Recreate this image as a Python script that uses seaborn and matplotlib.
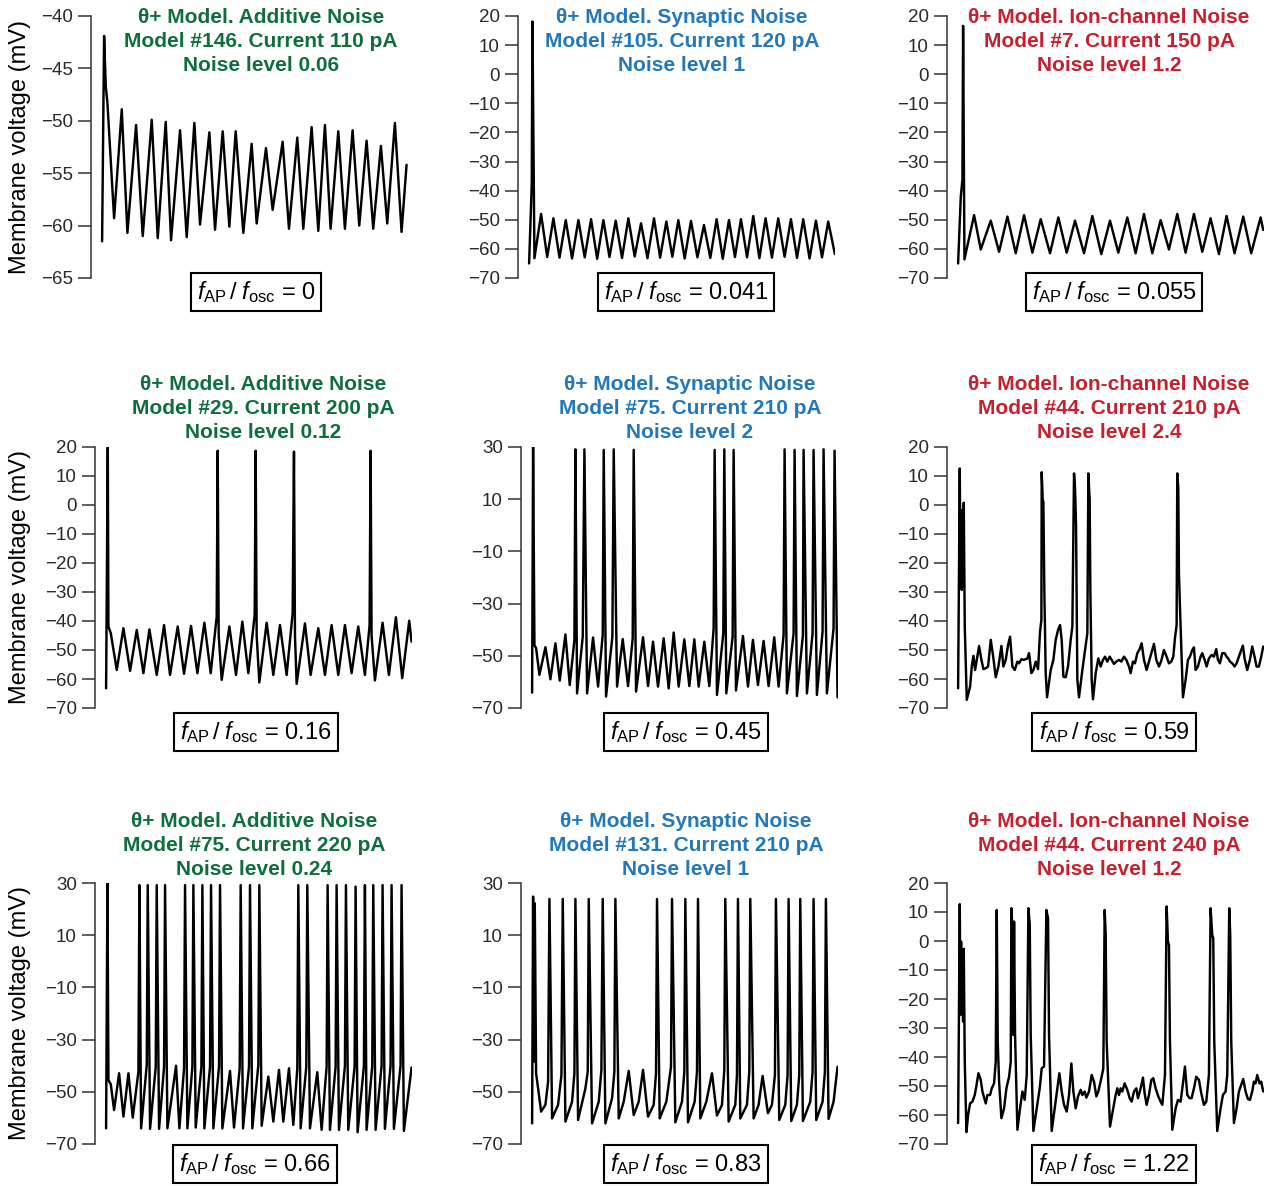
import matplotlib
matplotlib.use("Agg")
import matplotlib.pyplot as plt
import pandas as pd
import seaborn as sns

# ---------------------------------------------------------------------------
# Membrane-voltage traces: (time in ms, voltage in mV) at the turning points
# ---------------------------------------------------------------------------
trace_add_146 = [(0, -61.5), (18, -41.9), (33, -46.7), (48, -48.3), (108, -59.3), (177, -48.9),
                 (228, -60.7), (306, -50.4), (366, -61.0), (447, -49.9), (501, -61.2), (573, -50.1),
                 (621, -61.4), (702, -50.9), (762, -61.1), (831, -50.2), (882, -59.9), (966, -51.1),
                 (1017, -60.4), (1086, -51.0), (1146, -60.1), (1203, -51.0), (1272, -60.7), (1347, -52.2),
                 (1392, -59.8), (1476, -52.6), (1536, -58.5), (1626, -52.0), (1683, -60.3), (1758, -51.6),
                 (1812, -60.3), (1887, -50.6), (1947, -60.5), (2007, -50.4), (2058, -60.3), (2127, -51.0),
                 (2187, -60.3), (2256, -50.9), (2316, -60.0), (2382, -51.9), (2442, -60.3), (2511, -52.4),
                 (2568, -59.8), (2637, -50.2), (2697, -60.6), (2742, -54.2)]

trace_syn_105 = [(0, -65.0), (24, -37.5), (30, 18.1), (48, -63.2), (108, -48.0), (163, -62.8),
                 (219, -49.5), (274, -63.0), (330, -50.1), (387, -63.3), (444, -50.1), (501, -62.9),
                 (558, -49.8), (613, -63.4), (669, -50.1), (724, -62.8), (780, -50.3), (837, -63.1),
                 (894, -49.5), (951, -62.6), (1008, -51.2), (1066, -63.2), (1125, -49.5), (1180, -63.0),
                 (1236, -50.6), (1290, -62.7), (1344, -50.1), (1401, -63.3), (1458, -50.4), (1516, -62.9),
                 (1575, -51.8), (1632, -63.1), (1689, -49.8), (1744, -63.4), (1800, -50.1), (1854, -62.8),
                 (1908, -49.8), (1963, -62.9), (2019, -48.7), (2074, -63.2), (2130, -49.5), (2187, -63.0),
                 (2244, -49.5), (2301, -62.7), (2358, -49.8), (2413, -63.1), (2469, -49.8), (2526, -63.3),
                 (2583, -50.3), (2638, -62.9), (2694, -50.6), (2754, -61.8)]

trace_ion_7 = [(0, -65.0), (24, -42.1), (39, -36.3), (45, 16.6), (57, -63.6), (144, -48.4), (204, -60.2),
               (294, -50.3), (369, -61.0), (444, -48.9), (519, -61.5), (594, -48.4), (669, -61.3),
               (744, -49.8), (828, -61.5), (903, -49.2), (978, -61.3), (1053, -50.3), (1134, -61.5),
               (1209, -48.7), (1290, -61.8), (1368, -50.3), (1443, -61.3), (1524, -49.2), (1599, -61.5),
               (1674, -48.0), (1749, -61.5), (1824, -50.1), (1899, -60.2), (1974, -48.0), (2049, -61.3),
               (2124, -48.0), (2199, -61.0), (2274, -49.5), (2349, -61.8), (2418, -48.7), (2490, -61.5),
               (2568, -48.9), (2640, -61.5), (2724, -49.2), (2748, -53.5)]

trace_add_29 = [(0, -63.2), (15, 19.9), (21, -41.9), (42, -44.2), (96, -56.9), (156, -42.5), (216, -57.2),
                (276, -43.1), (336, -58.0), (390, -42.9), (456, -58.6), (522, -41.4), (576, -58.6),
                (645, -41.9), (702, -58.2), (765, -41.7), (822, -58.0), (885, -40.6), (942, -58.0),
                (996, -38.5), (1005, 18.7), (1014, -45.0), (1041, -60.3), (1110, -41.9), (1170, -58.6),
                (1227, -40.2), (1281, -58.0), (1338, -37.9), (1347, 18.7), (1356, -45.0), (1380, -61.2),
                (1446, -40.6), (1506, -58.6), (1566, -41.4), (1626, -58.6), (1680, -37.3), (1692, 18.4),
                (1701, -45.0), (1716, -61.7), (1791, -40.8), (1842, -58.6), (1911, -42.5), (1971, -58.6),
                (2031, -41.4), (2091, -58.6), (2151, -41.4), (2211, -58.0), (2271, -41.9), (2331, -58.6),
                (2373, -41.4), (2382, 18.7), (2391, -45.0), (2421, -60.5), (2490, -40.6), (2547, -58.6),
                (2610, -38.7), (2667, -59.7), (2730, -39.9), (2751, -47.1)]

trace_syn_75 = [(0, -64.1), (9, 30.1), (21, -45.9), (36, -47.1), (66, -57.3), (120, -46.7), (165, -59.0),
                (210, -45.2), (249, -59.5), (300, -41.8), (339, -61.2), (381, -43.9), (390, 29.1),
                (405, -64.4), (456, -42.7), (471, 29.1), (495, -64.4), (549, -43.0), (594, -61.8),
                (636, -42.0), (645, 28.9), (666, -65.6), (723, -42.7), (735, 29.1), (765, -61.8),
                (816, -43.6), (864, -61.6), (906, -43.3), (915, 28.9), (936, -63.7), (999, -42.9),
                (1044, -61.6), (1089, -44.6), (1134, -61.8), (1185, -43.3), (1230, -62.5), (1275, -41.1),
                (1320, -61.8), (1371, -43.7), (1416, -61.6), (1461, -43.7), (1500, -61.8), (1551, -44.6),
                (1596, -61.6), (1635, -39.5), (1644, 28.9), (1665, -65.0), (1722, -41.4), (1731, 29.1),
                (1749, -64.4), (1806, -42.7), (1815, 28.9), (1836, -63.3), (1899, -42.4), (1944, -61.8),
                (1989, -43.9), (2034, -61.2), (2085, -44.3), (2130, -61.6), (2181, -42.9), (2220, -61.8),
                (2265, -42.0), (2274, 29.1), (2295, -64.4), (2355, -41.4), (2364, 28.9), (2385, -65.4),
                (2439, -42.0), (2445, 28.9), (2475, -64.4), (2526, -41.4), (2535, 28.9), (2565, -65.0),
                (2616, -40.7), (2625, 29.1), (2655, -64.4), (2715, -39.5), (2724, 28.6), (2751, -65.9)]

trace_ion_44a = [(0, -63.2), (15, 12.6), (21, -25.9), (27, -1.7), (33, -29.3), (39, -4.6), (45, -28.2),
                 (51, 0.8), (60, -41.9), (78, -67.2), (108, -62.6), (123, -55.7), (138, -52.0),
                 (153, -56.9), (168, -53.4), (189, -48.6), (210, -53.4), (228, -56.6), (249, -56.3),
                 (270, -55.7), (294, -46.5), (315, -52.0), (339, -59.4), (363, -55.7), (390, -48.6),
                 (408, -55.7), (429, -53.4), (450, -48.3), (468, -45.4), (489, -55.7), (510, -56.9),
                 (534, -54.0), (549, -54.6), (570, -53.2), (594, -53.4), (624, -52.9), (639, -51.1),
                 (660, -58.0), (678, -56.9), (699, -54.0), (720, -56.6), (738, -43.7), (750, -39.6),
                 (753, 11.3), (762, 1.7), (768, 1.2), (777, -30.4), (789, -58.0), (801, -66.3),
                 (834, -56.9), (858, -53.4), (879, -46.5), (900, -43.1), (918, -41.4), (933, -46.5),
                 (948, -59.2), (969, -59.4), (990, -55.7), (1014, -46.5), (1029, -41.9), (1044, 10.9),
                 (1053, 5.8), (1062, -6.3), (1074, -60.3), (1089, -66.3), (1119, -56.9), (1140, -51.1),
                 (1164, -44.2), (1173, 10.9), (1185, 1.7), (1191, -29.3), (1203, -60.3), (1215, -67.0),
                 (1239, -58.0), (1263, -52.9), (1284, -55.7), (1305, -53.4), (1323, -52.3), (1344, -54.0),
                 (1365, -52.3), (1383, -53.4), (1404, -54.8), (1425, -54.0), (1449, -53.4), (1470, -54.0),
                 (1494, -52.3), (1515, -53.4), (1539, -55.7), (1554, -58.0), (1575, -54.0), (1593, -54.6),
                 (1614, -51.1), (1635, -49.7), (1653, -47.7), (1674, -53.4), (1698, -56.9), (1719, -54.0),
                 (1740, -51.1), (1764, -47.9), (1785, -53.4), (1809, -55.7), (1830, -53.7), (1854, -50.0),
                 (1875, -52.0), (1899, -54.6), (1920, -54.0), (1938, -52.3), (1953, -46.0), (1968, -41.4),
                 (1974, 10.9), (1983, 5.8), (1989, -23.6), (1998, -35.0), (2025, -66.3), (2049, -60.3),
                 (2070, -53.4), (2088, -52.3), (2109, -50.0), (2124, -49.1), (2139, -56.9), (2160, -55.7),
                 (2184, -52.3), (2199, -51.1), (2220, -53.4), (2238, -55.7), (2259, -52.9), (2283, -51.7),
                 (2304, -52.3), (2325, -49.7), (2340, -53.4), (2358, -54.6), (2379, -51.1), (2400, -51.1),
                 (2418, -52.3), (2433, -52.9), (2448, -54.0), (2469, -54.6), (2490, -55.7), (2508, -54.6),
                 (2529, -52.3), (2550, -50.0), (2565, -48.5), (2580, -52.9), (2604, -56.9), (2628, -53.4),
                 (2649, -48.8), (2670, -52.3), (2688, -55.7), (2709, -55.7), (2730, -52.3), (2748, -48.8)]

trace_add_75 = [(0, -64.0), (12, 30.0), (21, -45.5), (42, -47.1), (72, -57.0), (117, -42.9), (156, -59.5),
                (201, -42.9), (240, -59.9), (291, -42.3), (300, 29.2), (315, -64.0), (366, -39.7),
                (375, 29.2), (396, -64.2), (447, -40.4), (456, 29.2), (477, -64.2), (522, -40.4),
                (531, 29.2), (552, -64.0), (630, -40.0), (660, -64.0), (702, -41.0), (711, 29.2),
                (732, -64.0), (777, -40.4), (786, 29.2), (807, -63.7), (858, -40.4), (867, 29.2),
                (885, -64.0), (936, -40.4), (945, 29.2), (966, -64.0), (1017, -40.4), (1026, 29.2),
                (1047, -64.0), (1116, -42.0), (1152, -63.7), (1203, -41.0), (1212, 29.2), (1233, -64.0),
                (1287, -40.4), (1296, 29.2), (1317, -64.0), (1371, -39.7), (1380, 29.2), (1401, -63.0),
                (1461, -44.2), (1506, -61.4), (1557, -41.6), (1596, -61.4), (1647, -41.0), (1686, -62.7),
                (1722, -41.0), (1731, 29.2), (1752, -64.0), (1803, -40.4), (1812, 29.2), (1836, -64.0),
                (1902, -42.5), (1941, -64.6), (1986, -40.4), (1995, 29.2), (2016, -64.6), (2067, -40.4),
                (2076, 29.2), (2097, -64.6), (2151, -40.0), (2160, 29.2), (2181, -64.6), (2238, -40.4),
                (2247, 28.6), (2265, -65.5), (2322, -40.0), (2331, 29.2), (2346, -64.6), (2397, -40.0),
                (2406, 29.2), (2427, -64.6), (2481, -40.0), (2490, 29.2), (2511, -64.2), (2562, -40.0),
                (2571, 29.2), (2592, -64.2), (2652, -40.0), (2661, 29.2), (2682, -65.0), (2751, -40.7)]

trace_syn_131 = [(0, -62.1), (9, 24.8), (15, -38.5), (24, 22.2), (36, -42.9), (54, -48.7), (81, -57.6),
                 (120, -55.0), (144, -46.1), (156, 23.9), (180, -60.2), (234, -55.0), (264, -43.6),
                 (276, 23.9), (300, -61.4), (360, -53.8), (381, -42.9), (390, 23.9), (414, -60.8),
                 (480, -48.7), (501, -42.3), (510, 23.9), (540, -62.1), (600, -53.8), (624, -41.6),
                 (636, 23.9), (660, -62.1), (720, -52.5), (741, -42.3), (750, 23.9), (780, -60.2),
                 (825, -53.8), (870, -42.0), (915, -58.9), (960, -53.8), (999, -41.6), (1044, -59.5),
                 (1095, -55.0), (1116, -42.9), (1125, 23.9), (1149, -60.2), (1209, -53.8), (1251, -40.4),
                 (1260, 23.9), (1290, -61.7), (1350, -53.8), (1371, -42.3), (1380, 23.9), (1404, -61.7),
                 (1464, -53.8), (1485, -42.3), (1494, 23.9), (1515, -60.2), (1569, -53.8), (1620, -42.9),
                 (1665, -59.1), (1710, -55.0), (1731, -41.6), (1740, 23.9), (1770, -61.4), (1830, -55.0),
                 (1845, -43.6), (1854, 23.9), (1875, -60.2), (1935, -55.0), (1956, -42.3), (1965, 23.9),
                 (1995, -60.2), (2040, -55.0), (2076, -43.9), (2124, -58.2), (2160, -55.0), (2187, -43.6),
                 (2196, 23.9), (2226, -60.8), (2280, -55.0), (2301, -43.6), (2310, 23.9), (2334, -61.2),
                 (2385, -55.0), (2406, -43.6), (2415, 23.9), (2439, -61.2), (2505, -53.8), (2526, -42.3),
                 (2535, 23.9), (2559, -60.8), (2616, -53.8), (2637, -42.3), (2646, 23.9), (2670, -60.4),
                 (2715, -53.8), (2751, -40.4)]

trace_ion_44b = [(0, -62.8), (15, 12.7), (21, -25.5), (27, -0.2), (33, -23.2), (39, -11.7), (45, -27.8),
                 (51, -2.7), (60, -41.6), (75, -65.9), (90, -60.0), (108, -56.0), (129, -55.4),
                 (150, -53.1), (165, -49.9), (183, -45.6), (204, -47.9), (219, -51.9), (234, -54.0),
                 (249, -56.0), (264, -53.1), (288, -53.1), (303, -50.8), (324, -49.1), (339, -41.6),
                 (348, 10.7), (357, -34.7), (369, -48.5), (390, -61.1), (414, -57.7), (435, -50.8),
                 (459, -46.8), (474, -41.6), (480, 11.3), (492, 2.1), (498, -32.4), (504, 6.7),
                 (513, -32.4), (534, -65.1), (558, -57.7), (579, -51.9), (600, -54.8), (618, -46.2),
                 (633, 11.3), (645, 6.1), (654, -32.4), (678, -65.5), (708, -57.7), (735, -50.8),
                 (753, -43.9), (774, -43.3), (795, 10.7), (810, 7.8), (819, -32.4), (843, -65.5),
                 (870, -57.7), (894, -50.8), (912, -45.6), (933, -51.9), (954, -56.5), (978, -58.8),
                 (999, -53.1), (1020, -42.2), (1038, -51.9), (1059, -57.7), (1080, -53.6), (1104, -51.3),
                 (1119, -53.1), (1140, -51.9), (1155, -54.0), (1179, -51.9), (1203, -46.2), (1224, -48.5),
                 (1245, -53.6), (1263, -51.9), (1290, -47.3), (1308, -43.9), (1320, 10.7), (1329, 2.7),
                 (1338, -34.7), (1368, -64.0), (1398, -57.7), (1419, -53.1), (1434, -50.8), (1449, -53.1),
                 (1464, -50.8), (1479, -51.9), (1500, -49.1), (1524, -51.3), (1545, -54.2), (1563, -55.4),
                 (1584, -51.9), (1605, -50.8), (1620, -54.2), (1644, -50.8), (1665, -47.1), (1680, -52.5),
                 (1698, -56.5), (1719, -53.1), (1740, -47.9), (1758, -47.3), (1779, -50.8), (1803, -53.6),
                 (1824, -55.4), (1839, -56.5), (1863, -46.2), (1878, 11.9), (1890, -0.2), (1899, -1.4),
                 (1908, -34.7), (1929, -65.1), (1959, -57.7), (1980, -54.8), (2004, -55.4), (2025, -49.1),
                 (2043, -43.3), (2064, -53.1), (2085, -54.2), (2103, -54.2), (2124, -50.8), (2145, -46.8),
                 (2169, -47.9), (2190, -52.5), (2214, -56.5), (2235, -55.4), (2259, -46.2), (2274, 11.3),
                 (2289, 2.1), (2298, 0.9), (2307, -34.7), (2334, -65.5), (2364, -57.7), (2385, -53.1),
                 (2409, -51.9), (2424, -46.2), (2442, 11.3), (2451, 2.1), (2460, -34.7), (2484, -62.8),
                 (2508, -57.7), (2529, -51.9), (2550, -49.6), (2568, -47.6), (2589, -51.9), (2610, -54.5),
                 (2628, -54.8), (2649, -51.9), (2664, -48.5), (2679, -49.1), (2694, -46.2), (2715, -49.1),
                 (2730, -48.5), (2748, -51.9)]

# Panel annotations
noise_types = ["Additive", "Synaptic", "Ion-channel"]
models = [[146, 105, 7], [29, 75, 44], [75, 131, 44]]
currents = [[110, 120, 150], [200, 210, 210], [220, 210, 240]]
noise_levels = [["0.06", "1", "1.2"], ["0.12", "2", "2.4"], ["0.24", "1", "1.2"]]
ratios = [["0", "0.041", "0.055"], ["0.16", "0.45", "0.59"], ["0.66", "0.83", "1.22"]]
traces = [[trace_add_146, trace_syn_105, trace_ion_7],
          [trace_add_29, trace_syn_75, trace_ion_44a],
          [trace_add_75, trace_syn_131, trace_ion_44b]]
y_ranges = [[(-65, -40, 5), (-70, 20, 10), (-70, 20, 10)],
            [(-70, 20, 10), (-70, 30, 20), (-70, 20, 10)],
            [(-70, 30, 20), (-70, 30, 20), (-70, 20, 10)]]
title_colors = ["#0e6f3c", "#2178bd", "#c6202e"]

# ---------------------------------------------------------------------------
# Figure
# ---------------------------------------------------------------------------
W, H = 1271, 1186
sns.set_theme(style="ticks")
plt.rcParams["font.family"] = ["Liberation Sans", "DejaVu Sans"]
plt.rcParams["mathtext.fontset"] = "custom"
plt.rcParams["mathtext.rm"] = "Liberation Sans"
plt.rcParams["mathtext.it"] = "Liberation Sans:italic"
plt.rcParams["axes.unicode_minus"] = True

fig = plt.figure(figsize=(W / 100, H / 100), dpi=100)
fig.patch.set_facecolor("white")

# layout in pixels (left spine x, axes top y, axes bottom y)
spine_x = [[91, 518, 947], [95, 521, 947], [95, 521, 947]]
row_top = [16, 447, 883]
row_bot = [278, 708, 1144]
axes_w = 317
title_cx = [[261, 682, 1109], [263, 690, 1109], [254, 686, 1109]]
title_base = [[23, 47, 71], [390, 414, 438], [827, 851, 875]]
box_cx = [[256, 686, 1114], [256, 686, 1114], [255, 686, 1114]]
box_cy = [292, 732, 1164]
spine_col = "#333333"

for r in range(3):
    for c in range(3):
        left = spine_x[r][c]
        ax = fig.add_axes([left / W, 1 - row_bot[r] / H, axes_w / W,
                           (row_bot[r] - row_top[r]) / H])
        df = pd.DataFrame(traces[r][c], columns=["time", "voltage"])
        sns.lineplot(data=df, x="time", y="voltage", ax=ax, color="black",
                     linewidth=1.75, estimator=None, sort=False, legend=False)
        lo, hi, step = y_ranges[r][c]
        ax.set_ylim(lo, hi)
        ax.set_yticks(list(range(lo, hi + 1, step)))
        ax.set_xlim(-100, 2755)
        ax.set_xticks([])
        ax.set_xlabel("")
        ax.set_ylabel("")
        ax.set_facecolor("none")
        for s in ("top", "right", "bottom"):
            ax.spines[s].set_visible(False)
        ax.spines["left"].set_color(spine_col)
        ax.spines["left"].set_linewidth(1.1)
        ax.tick_params(axis="y", direction="out", length=9.5, width=1.1,
                       color=spine_col, labelsize=13.5, pad=3.5, labelcolor="#2a2a2a")

        # three-line panel heading
        lines = [f"\u03b8+ Model. {noise_types[c]} Noise",
                 f"Model #{models[r][c]}. Current {currents[r][c]} pA",
                 f"Noise level {noise_levels[r][c]}"]
        for k, line in enumerate(lines):
            fig.text(title_cx[r][c] / W, 1 - title_base[r][k] / H, line,
                     ha="center", va="baseline", fontsize=15, fontweight="bold",
                     color=title_colors[c])

        # firing-ratio box
        fig.text(box_cx[r][c] / W, 1 - box_cy[r] / H,
                 r"$f_{\mathrm{AP}}\,/\;f_{\mathrm{osc}}$ = " + ratios[r][c],
                 ha="center", va="center", fontsize=17, color="black",
                 bbox=dict(boxstyle="square,pad=0.26", fc="white", ec="black", lw=1.5))

    fig.text(20 / W, 1 - (row_top[r] + row_bot[r]) / 2 / H, "Membrane voltage (mV)",
             rotation=90, ha="center", va="center", fontsize=17, color="black")

fig.savefig("out.png", dpi=100, facecolor="white")
